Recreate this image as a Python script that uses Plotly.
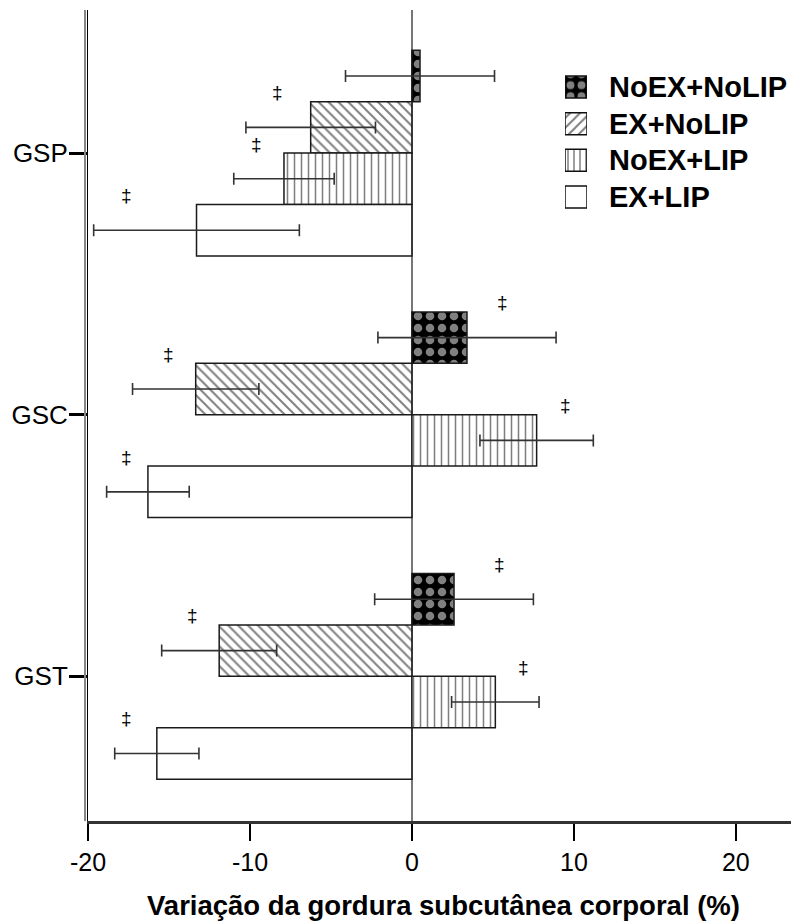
import plotly.graph_objects as go

# ---------------- data ----------------
categories = ["GSP", "GSC", "GST"]
series_names = ["NoEX+NoLIP", "EX+NoLIP", "NoEX+LIP", "EX+LIP"]

noex_nolip = [0.5, 3.4, 2.6]
noex_nolip_err = [4.6, 5.5, 4.9]
ex_nolip = [-6.25, -13.35, -11.9]
ex_nolip_err = [4.0, 3.9, 3.55]
noex_lip = [-7.9, 7.7, 5.15]
noex_lip_err = [3.1, 3.5, 2.7]
ex_lip = [-13.3, -16.3, -15.75]
ex_lip_err = [6.35, 2.55, 2.6]

# x value where the significance mark (‡) sits for each bar (None = no mark)
sig_noex_nolip = [None, 5.6, 5.4]
sig_ex_nolip = [-8.3, -15.0, -13.55]
sig_noex_lip = [-9.6, 9.5, 6.9]
sig_ex_lip = [-17.6, -17.6, -17.6]

x_tickvals = [-20, -10, 0, 10, 20]
x_ticktext = ["-20", "-10", "0", "10", "20"]
x_title = "Variação da gordura subcutânea corporal (%)"
sig_symbol = "‡"

# ---------------- styling ----------------
FONT = "Liberation Sans, Arial, sans-serif"
# the page body adds an 8px offset, so the figure is 8px smaller than the window
OFF = 8
W, H = 799 - OFF, 921 - OFF
ML, MR, MT, MB = 88 - OFF, 0, 10 - OFF, 100
BARGAP = 0.214

values = [noex_nolip, ex_nolip, noex_lip, ex_lip]
errors = [noex_nolip_err, ex_nolip_err, noex_lip_err, ex_lip_err]
sigs = [sig_noex_nolip, sig_ex_nolip, sig_noex_lip, sig_ex_lip]

patterns = [
    dict(shape=".", fgcolor="white", bgcolor="black", size=12, solidity=0.4),
    dict(shape="\\", fgcolor="#000000", bgcolor="white", size=7, solidity=0.28),
    dict(shape="|", fgcolor="#000000", bgcolor="white", size=7, solidity=0.22),
    dict(shape="", fgcolor="black", bgcolor="white"),
]
legend_patterns = [
    dict(shape=".", size=11, solidity=0.4, fg="white", bg="black"),
    dict(shape="/", size=7, solidity=0.28, fg="black", bg="white"),
    dict(shape="|", size=6, solidity=0.25, fg="black", bg="white"),
    dict(shape="", size=8, solidity=0.2, fg="black", bg="white"),
]

ypos = list(range(len(categories)))

fig = go.Figure()
for name, vals, errs, pat in zip(series_names, values, errors, patterns):
    fig.add_trace(go.Bar(
        name=name, y=ypos, x=vals, orientation="h",
        marker=dict(color="white", pattern=pat,
                    line=dict(color="#1a1a1a", width=1.5)),
        error_x=dict(type="data", array=errs, symmetric=True,
                     color="#333333", thickness=1.6, width=6),
        showlegend=False,
    ))

# significance marks
slot = (1 - BARGAP) / len(series_names)
ann = []
for i, sg in enumerate(sigs):
    for c, xv in enumerate(sg):
        if xv is None:
            continue
        ytop = c + (i - len(series_names) / 2) * slot
        ann.append(dict(x=xv, y=ytop, xref="x", yref="y", text=sig_symbol,
                        showarrow=False, yshift=9,
                        font=dict(family=FONT, size=19, color="black")))

pw = W - ML - MR
ph = H - MT - MB
leg_x0, leg_x1 = 565 - OFF, 587 - OFF
leg_y0, leg_y1 = 68.7 - OFF, 215.3 - OFF
leg_text_x = 607 - OFF

# custom legend: swatches drawn as bars on a small auxiliary axis pair
fig.add_trace(go.Bar(
    y=list(range(len(series_names))), x=[1] * len(series_names),
    orientation="h", width=0.6, xaxis="x2", yaxis="y2", showlegend=False,
    marker=dict(color="white",
                pattern=dict(shape=[p["shape"] for p in legend_patterns],
                             size=[p["size"] for p in legend_patterns],
                             solidity=[p["solidity"] for p in legend_patterns],
                             fgcolor=[p["fg"] for p in legend_patterns],
                             bgcolor=[p["bg"] for p in legend_patterns]),
                line=dict(color="#111111", width=1.5)),
    hoverinfo="skip",
))
for k, name in enumerate(series_names):
    ann.append(dict(x=(leg_text_x - ML) / pw, y=k, xref="paper", yref="y2",
                    text=name, showarrow=False, xanchor="left",
                    font=dict(family=FONT, size=29, color="black", weight=700)))

fig.update_layout(
    width=W, height=H,
    margin=dict(l=ML, r=MR, t=MT, b=MB),
    paper_bgcolor="white", plot_bgcolor="white",
    barmode="group", bargap=BARGAP,
    font=dict(family=FONT, color="black"),
    showlegend=False,
    annotations=ann,
    xaxis=dict(range=[-20, 23.9], tickvals=x_tickvals, ticktext=x_ticktext,
               ticks="outside", ticklen=17, tickwidth=2, tickcolor="black",
               showline=True, linecolor="#333333", linewidth=3,
               zeroline=True, zerolinecolor="#777777", zerolinewidth=1.5,
               showgrid=False, tickfont=dict(size=25, family=FONT),
               automargin=False,
               title=dict(text=x_title, standoff=24,
                          font=dict(size=27.5, family=FONT, weight=700))),
    yaxis=dict(range=[2.553, -0.547], tickvals=ypos, ticktext=categories,
               ticks="outside", ticklen=18, tickwidth=2.5, tickcolor="black",
               showline=True, linecolor="black", linewidth=1,
               zeroline=False, showgrid=False, automargin=False,
               ticklabelstandoff=-4,
               tickfont=dict(size=26, family=FONT)),
    xaxis2=dict(domain=[(leg_x0 - ML) / pw, (leg_x1 - ML) / pw], anchor="y2",
                range=[0, 1], visible=False),
    yaxis2=dict(domain=[(H - MB - leg_y1) / ph, (H - MB - leg_y0) / ph],
                anchor="x2", range=[3.5, -0.5], visible=False),
    shapes=[dict(type="line", xref="paper", yref="paper",
                 x0=-3 / pw, x1=-3 / pw, y0=0, y1=1,
                 line=dict(color="#888888", width=2))],
)

fig.write_html("out.html")
